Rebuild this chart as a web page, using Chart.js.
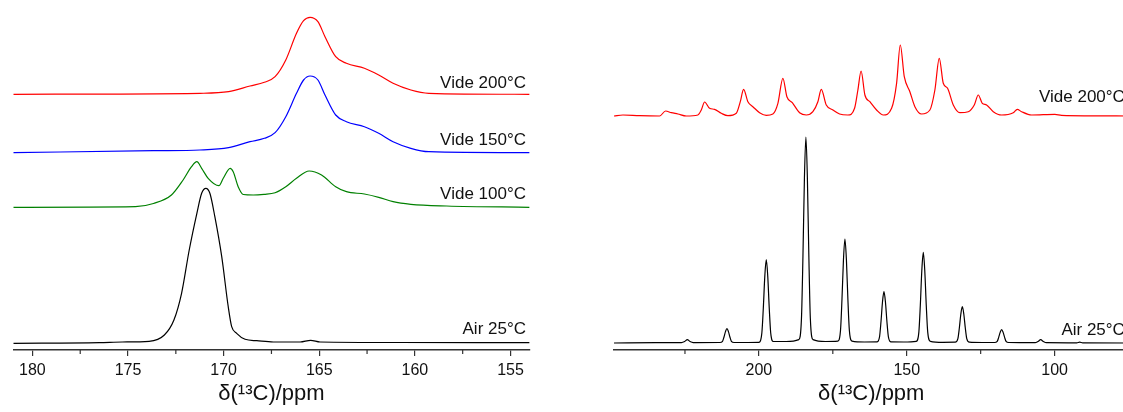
<!DOCTYPE html>
<html>
<head>
<meta charset="utf-8">
<script src="https://cdn.jsdelivr.net/npm/chart.js@4"></script>
<style>
  html, body { margin: 0; padding: 0; background: #fff; overflow: hidden; width: 1123px; height: 412px; }
  #c1 { position: absolute; left: 0; top: 0; }
  #c2 { position: absolute; left: 560px; top: 0; }
</style>
</head>
<body>
<canvas id="c1" width="560" height="412"></canvas>
<canvas id="c2" width="600" height="412"></canvas>
<script>
// --- Datos: panel izquierdo (zona carbonilo) ---
const leftNames = ['Air 25°C', 'Vide 100°C', 'Vide 150°C', 'Vide 200°C'];
const leftOffsets = [7, 142.7, 197.3, 255.7];

const leftAirPpm = [181, 176.5, 175.3, 173.9, 173.1, 172.6, 172.2, 171.8, 171.4, 171.15, 170.93, 170.72, 170.46, 170.1, 169.76, 169.58, 169.32, 168.88, 168.27, 167.4, 166.0, 165.45, 164.96, 160.8, 154];
const leftAirInt = [-0.3, 0.3, 1, 1.7, 8, 23, 49.7, 93, 129.7, 149.7, 154.7, 149.7, 126.3, 86.3, 36.3, 16.3, 9.7, 3.7, 2.3, 1, 1, 2.7, 1, 0.5, 0.3];

const leftV100Ppm = [181, 174.61, 173.67, 172.73, 172.12, 171.68, 171.40, 171.15, 170.81, 170.25, 170.02, 169.66, 169.50, 169.24, 168.97, 168.45, 167.89, 167.31, 166.75, 166.19, 165.53, 164.88, 164.14, 163.58, 162.64, 161.89, 161.14, 160.21, 158.34, 154];
const leftV100Int = [0, 0.6, 3.8, 12.3, 27.3, 40.6, 45.6, 39, 29, 21.6, 29, 39, 35.6, 20.6, 12.8, 12.3, 13, 14.6, 20.6, 29, 36.3, 32.3, 20.6, 15.6, 13.3, 10, 5.6, 3, 1.3, 0];

const leftV150Ppm = [181, 173.67, 171.24, 169.74, 168.62, 167.87, 167.31, 166.75, 166.19, 165.82, 165.48, 165.07, 164.70, 164.14, 163.58, 162.64, 161.89, 161.14, 160.21, 159.27, 154];
const leftV150Int = [0, 2, 2.7, 5, 11, 14.4, 20, 36, 59.4, 72.7, 76.7, 72.7, 57.7, 37.7, 31, 26, 19.4, 11, 4.4, 1, 0];

const leftV200Ppm = [181, 171.24, 169.74, 168.62, 167.87, 167.31, 166.75, 166.19, 165.82, 165.48, 165.07, 164.70, 164.14, 163.58, 162.64, 161.89, 161.14, 160.21, 159.27, 154];
const leftV200Int = [0, 1, 2.6, 8.3, 12, 17.6, 34.3, 61, 73.6, 77, 72.6, 57.6, 37.6, 31, 26, 19.3, 11, 4.3, 1, 0];

const leftMajor = [180, 175, 170, 165, 160, 155];
const leftMinor = [177.5, 172.5, 167.5, 162.5, 157.5];

// --- Datos: panel derecho (espectro completo con bandas laterales) ---
const rightNames = ['Air 25°C', 'Vide 200°C'];
const rightOffsets = [7, 234];

const rightAirPpm = [249, 235, 226.2, 225.1, 224.2, 223.3, 222.2,
  213.2, 212.3, 211.8, 211.3, 210.8, 210.3, 209.8, 209.3, 208.4,
  200.0, 199.0, 198.5, 198.0, 197.5, 197.0, 196.5, 196.0, 195.1, 190.8,
  186.5, 185.6, 185.1, 184.6, 184.1, 183.6, 183.1, 182.6, 181.7, 177.5,
  173.3, 172.4, 171.9, 171.4, 170.9, 170.4, 169.9, 169.4, 168.5, 164.3,
  160.1, 159.2, 158.7, 158.2, 157.7, 157.2, 156.7, 156.2, 155.3, 151.0,
  146.8, 145.9, 145.4, 144.9, 144.4, 143.9, 143.4, 142.9, 142.0, 137.8,
  133.6, 132.7, 132.2, 131.7, 131.2, 130.7, 130.2, 129.7, 128.8, 124.5,
  120.3, 119.4, 118.9, 118.4, 117.9, 117.4, 116.9, 116.4, 115.5,
  106.6, 105.6, 104.7, 103.8, 102.8, 92.5, 91.5, 90.5, 75];
const rightAirInt = [0, 0.3, 0.4, 1.5, 3.3, 1.5, 0.4,
  0.5, 1.7, 6, 11.4, 14.3, 11.4, 6, 1.7, 0.5,
  0.7, 10, 35, 66.6, 83.3, 66.6, 35, 10, 1.5, 1.5,
  3.4, 24.7, 86.5, 164.8, 206, 164.8, 86.5, 24.7, 3.4, 1.5,
  1.9, 12.5, 43.7, 83.2, 104, 83.2, 43.7, 12.5, 1.9, 1,
  1.1, 6.2, 21.5, 41, 51.3, 41, 21.5, 6.2, 1.1, 1,
  1.7, 10.9, 38, 72.5, 90.6, 72.5, 38, 10.9, 1.7, 0.7,
  0.8, 4.4, 15.2, 29, 36.3, 29, 15.2, 4.4, 0.8, 0.5,
  0.5, 1.6, 5.6, 10.6, 13.3, 10.6, 5.6, 1.6, 0.5,
  0.3, 1.5, 3.3, 1.5, 0.3, 0.2, 0.8, 0.2, 0];

const rightV200Ppm = [249, 245.99, 240.34, 233.58, 231.55, 229.62, 227.39, 224.55,
  220.63, 219.48, 218.36, 216.67, 214.98, 212.72, 210.48,
  207.64, 206.29, 205.17, 203.72, 202.03, 199.76, 197.50,
  195.27, 193.57, 191.88, 190.53, 188.70, 186.24, 183.97,
  181.74, 180.05, 178.90, 177.21, 174.97, 172.71, 169.90,
  167.64, 166.52, 165.44, 164.15, 162.46, 160.20, 157.93,
  155.12, 153.43, 152.18, 150.83, 148.94, 147.24, 144.98,
  142.17, 140.48, 139.0, 137.64, 136.19, 134.26, 132.03,
  129.19, 127.16, 125.80, 124.45, 123.0, 120.73, 117.92,
  113.97, 112.61, 111.16, 107.78, 99.9, 97.63, 75];
const rightV200Int = [0, 1, 0.3, 0, 5, 3.3, 2, 0,
  1, 6, 14, 7.7, 6.7, 2.7, 0.3,
  2.7, 14.3, 26.7, 14.3, 9.3, 3.3, 0.7,
  2, 12.7, 37.7, 19.3, 13.3, 3.3, 1,
  4.3, 14.3, 26.7, 11, 6, 2, 1,
  7.7, 26, 45, 21, 14.3, 6, 1,
  7.7, 32.7, 71, 39.3, 24.3, 9.3, 2,
  6, 26, 57.7, 32.7, 27.7, 11, 3.3,
  4.3, 11, 21, 12.7, 11, 4.3, 1,
  3.3, 6.7, 4.3, 1, 1.7, 0.7, 0];

const rightMajor = [200, 150, 100];
const rightMinor = [225, 175, 125];

// --- Construcción de series ---
function serie(ppm, inten, offset, color) {
    return {
        data: ppm.map((p, i) => ({ x: p, y: inten[i] + offset })),
        borderColor: color,
        borderWidth: 1.2,
        pointRadius: 0,
        fill: false,
        cubicInterpolationMode: 'monotone'
    };
}

const FONT = "'Liberation Sans', Arial, sans-serif";
const AXIS = '#333';

// Marcas menores del eje x
const minorTicks = {
    id: 'minorTicks',
    afterDraw(chart, args, opts) {
        const { ctx, scales: { x } } = chart;
        ctx.save();
        ctx.strokeStyle = AXIS;
        ctx.lineWidth = 1.2;
        (opts.values || []).forEach(v => {
            const px = x.getPixelForValue(v);
            ctx.beginPath();
            ctx.moveTo(px, x.top);
            ctx.lineTo(px, x.top + 4);
            ctx.stroke();
        });
        ctx.restore();
    }
};

// Etiquetas de cada espectro
const traceLabels = {
    id: 'traceLabels',
    afterDatasetsDraw(chart, args, opts) {
        const { ctx, chartArea } = chart;
        ctx.save();
        ctx.font = '17px ' + FONT;
        ctx.fillStyle = '#111';
        ctx.textAlign = 'right';
        ctx.textBaseline = 'middle';
        (opts.items || []).forEach(it => ctx.fillText(it.text, chartArea.right + opts.dx, it.y));
        ctx.restore();
    }
};

function opciones(xMin, xMax, majors, minors, padL, padR, labelItems) {
    return {
        responsive: false,
        animation: false,
        layout: { padding: { left: padL, right: padR, top: 0, bottom: 0 }, autoPadding: false },
        plugins: {
            legend: { display: false },
            tooltip: { enabled: false },
            minorTicks: { values: minors },
            traceLabels: { items: labelItems, dx: -3.6 }
        },
        scales: {
            x: {
                type: 'linear',
                reverse: true,
                min: xMin,
                max: xMax,
                afterBuildTicks: s => { s.ticks = majors.map(v => ({ value: v })); },
                afterFit: s => { s.height = 62; },
                grid: { display: true, drawOnChartArea: false, drawTicks: true, tickLength: 6, color: AXIS, lineWidth: 1.2 },
                border: { display: true, color: AXIS, width: 1.6 },
                ticks: { color: '#111', font: { family: FONT, size: 16 }, padding: 5, maxRotation: 0, autoSkip: false },
                title: { display: true, text: 'δ(¹³C)/ppm', color: '#111', font: { family: FONT, size: 22 }, padding: { top: 0, bottom: 5 } }
            },
            y: { display: false, min: 0, max: 350 }
        }
    };
}

new Chart(document.getElementById('c1'), {
    type: 'line',
    data: {
        datasets: [
            serie(leftAirPpm, leftAirInt, leftOffsets[0], '#000000'),
            serie(leftV100Ppm, leftV100Int, leftOffsets[1], '#008000'),
            serie(leftV150Ppm, leftV150Int, leftOffsets[2], '#0000ff'),
            serie(leftV200Ppm, leftV200Int, leftOffsets[3], '#ff0000')
        ]
    },
    options: opciones(154, 181, leftMajor, leftMinor, 13.3, 30.4, [
        { text: leftNames[0], y: 329 },
        { text: leftNames[1], y: 194 },
        { text: leftNames[2], y: 140 },
        { text: leftNames[3], y: 83 }
    ]),
    plugins: [minorTicks, traceLabels]
});

new Chart(document.getElementById('c2'), {
    type: 'line',
    data: {
        datasets: [
            serie(rightAirPpm, rightAirInt, rightOffsets[0], '#000000'),
            serie(rightV200Ppm, rightV200Int, rightOffsets[1], '#ff0000')
        ]
    },
    options: opciones(75, 249, rightMajor, rightMinor, 54, 31.5, [
        { text: rightNames[0], y: 330 },
        { text: rightNames[1], y: 97 }
    ]),
    plugins: [minorTicks, traceLabels]
});
</script>
</body>
</html>
